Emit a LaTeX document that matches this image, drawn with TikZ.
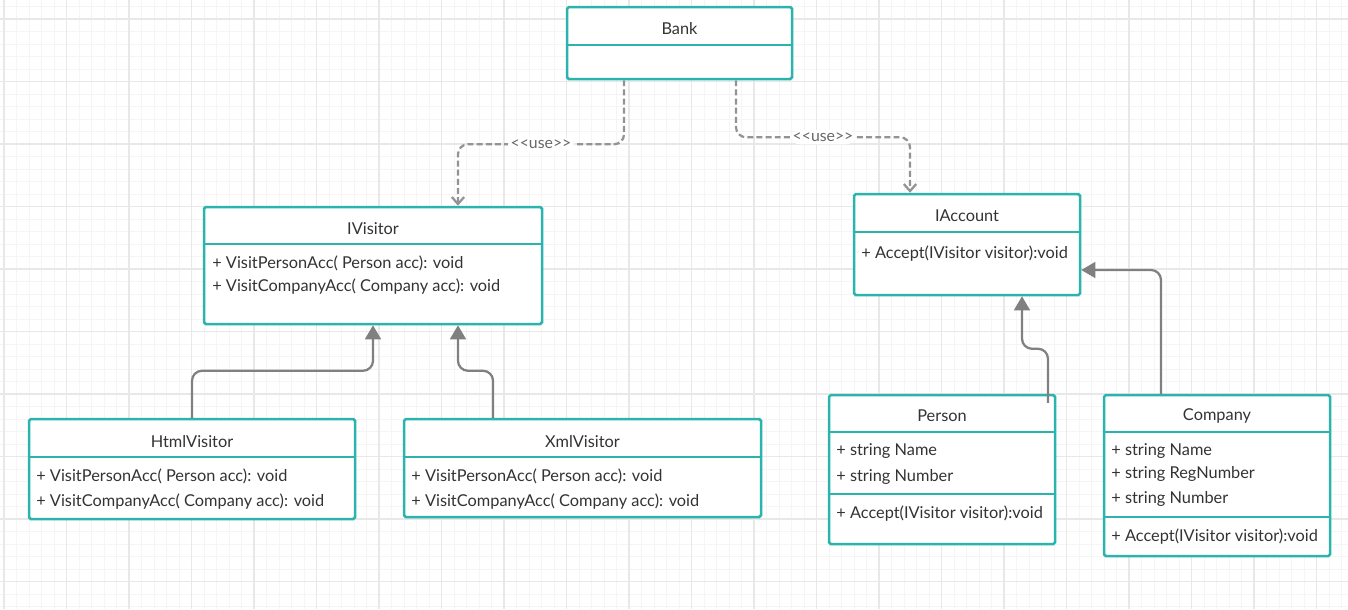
\documentclass[tikz,border=0pt]{standalone}
\usepackage{fontspec}
\setmainfont{Lato}
\usetikzlibrary{arrows.meta,fit}
\definecolor{umlteal}{HTML}{2BB3AE}
\definecolor{umlgray}{HTML}{808080}
\definecolor{umltext}{HTML}{333333}
\definecolor{gridminor}{HTML}{F5F5F5}
\definecolor{gridmajor}{HTML}{E8E8E8}
\tikzset{
  umlbox/.style={draw=umlteal, line width=0.05cm, fill=white, inner sep=0pt, rounded corners=1pt},
  umlsep/.style={draw=umlteal, line width=0.05cm},
  umltitle/.style={text=umltext, font=\fontsize{9.3}{11}\selectfont, inner sep=0pt, yshift=-0.03cm},
  umlmember/.style={umltitle, anchor=west},
  usedep/.style={draw=umlgray!85, line width=0.045cm, dash pattern=on 3.4pt off 1.8pt, rounded corners=0.2cm, -{Straight Barb[length=4pt,width=7pt]}},
  inherit/.style={draw=umlgray, line width=0.045cm, rounded corners=0.2cm, -{Triangle[length=8pt,width=9pt]}},
  uselabel/.style={fill=white, text=umlgray!80!black, font=\fontsize{9}{10}\selectfont, inner sep=1.5pt},
}
\begin{document}
\begin{tikzpicture}[x=0.02cm, y=-0.02cm]
\useasboundingbox (0,0) rectangle (1348,609);
\fill[white] (0,0) rectangle (1348,609);

% grid
\foreach \x in {4,16.5,...,1348} \draw[gridminor, line width=0.02cm] (\x,0) -- (\x,609);
\foreach \y in {6.5,19,...,609} \draw[gridminor, line width=0.02cm] (0,\y) -- (1348,\y);
\foreach \x in {4,66.5,...,1348} \draw[gridmajor, line width=0.03cm] (\x,0) -- (\x,609);
\foreach \y in {19,81.5,...,609} \draw[gridmajor, line width=0.03cm] (0,\y) -- (1348,\y);

% Bank
\node[umlbox, fit={(567,7) (792,79)}] (bank) {};
\draw[umlsep] (567,45) -- (792,45);
\node[umltitle] (banktitle) at (679.5,27) {Bank};

% IVisitor
\node[umlbox, fit={(204,207) (542,324)}] (ivisitor) {};
\draw[umlsep] (204,244) -- (542,244);
\node[umltitle] (ivisitortitle) at (373,227) {IVisitor};
\node[umlmember] (ivisitorop1) at (212,262) {+ VisitPersonAcc( Person acc): void};
\node[umlmember] (ivisitorop2) at (212,285) {+ VisitCompanyAcc( Company acc): void};

% IAccount
\node[umlbox, fit={(854,194) (1080,295)}] (iaccount) {};
\draw[umlsep] (854,232) -- (1080,232);
\node[umltitle] (iaccounttitle) at (967,214) {IAccount};
\node[umlmember] (iaccountop1) at (861,252) {+ Accept(IVisitor visitor):void};

% HtmlVisitor
\node[umlbox, fit={(29,419) (355,519)}] (html) {};
\draw[umlsep] (29,457) -- (355,457);
\node[umltitle] (htmltitle) at (192,440) {HtmlVisitor};
\node[umlmember] (htmlop1) at (36,475) {+ VisitPersonAcc( Person acc): void};
\node[umlmember] (htmlop2) at (36,500) {+ VisitCompanyAcc( Company acc): void};

% XmlVisitor
\node[umlbox, fit={(404,419) (761,517)}] (xml) {};
\draw[umlsep] (404,457) -- (761,457);
\node[umltitle] (xmltitle) at (582.5,440) {XmlVisitor};
\node[umlmember] (xmlop1) at (411,475) {+ VisitPersonAcc( Person acc): void};
\node[umlmember] (xmlop2) at (411,500) {+ VisitCompanyAcc( Company acc): void};

% Person
\node[umlbox, fit={(829,395) (1055,544)}] (person) {};
\draw[umlsep] (829,432) -- (1055,432);
\draw[umlsep] (829,494) -- (1055,494);
\node[umltitle] (persontitle) at (942,414) {Person};
\node[umlmember] (personattr1) at (836,450) {+ string Name};
\node[umlmember] (personattr2) at (836,475) {+ string Number};
\node[umlmember] (personop1) at (836,512) {+ Accept(IVisitor visitor):void};

% Company
\node[umlbox, fit={(1104,395) (1330,556)}] (company) {};
\draw[umlsep] (1104,432) -- (1330,432);
\draw[umlsep] (1104,517) -- (1330,517);
\node[umltitle] (companytitle) at (1217,414) {Company};
\node[umlmember] (companyattr1) at (1111,450) {+ string Name};
\node[umlmember] (companyattr2) at (1111,472) {+ string RegNumber};
\node[umlmember] (companyattr3) at (1111,497) {+ string Number};
\node[umlmember] (companyop1) at (1111,535) {+ Accept(IVisitor visitor):void};

% use dependencies
\draw[usedep] ([xshift=-1.11cm]bank.south) -- ++(0,64)
  -| node[pos=0.25, uselabel] (use1) {<\kern0pt<use>\kern0pt>} ([xshift=1.7cm]ivisitor.north);
\draw[usedep] ([xshift=1.13cm]bank.south) -- ++(0,57)
  -| node[pos=0.25, uselabel] (use2) {<\kern0pt<use>\kern0pt>} ([xshift=-1.14cm]iaccount.north);

% generalisations
\draw[inherit] (html.north) -- ++(0,-47) -| (ivisitor.south);
\draw[inherit] ([xshift=-1.79cm]xml.north) -- ++(0,-47) -| ([xshift=1.7cm]ivisitor.south);
\draw[inherit] ([xshift=2.12cm, yshift=-0.18cm]person.north) -- ++(0,-54) -| ([xshift=1.1cm]iaccount.south);
\draw[inherit] ([xshift=-1.12cm]company.north) |- ([yshift=-0.51cm]iaccount.east);
\end{tikzpicture}
\end{document}
